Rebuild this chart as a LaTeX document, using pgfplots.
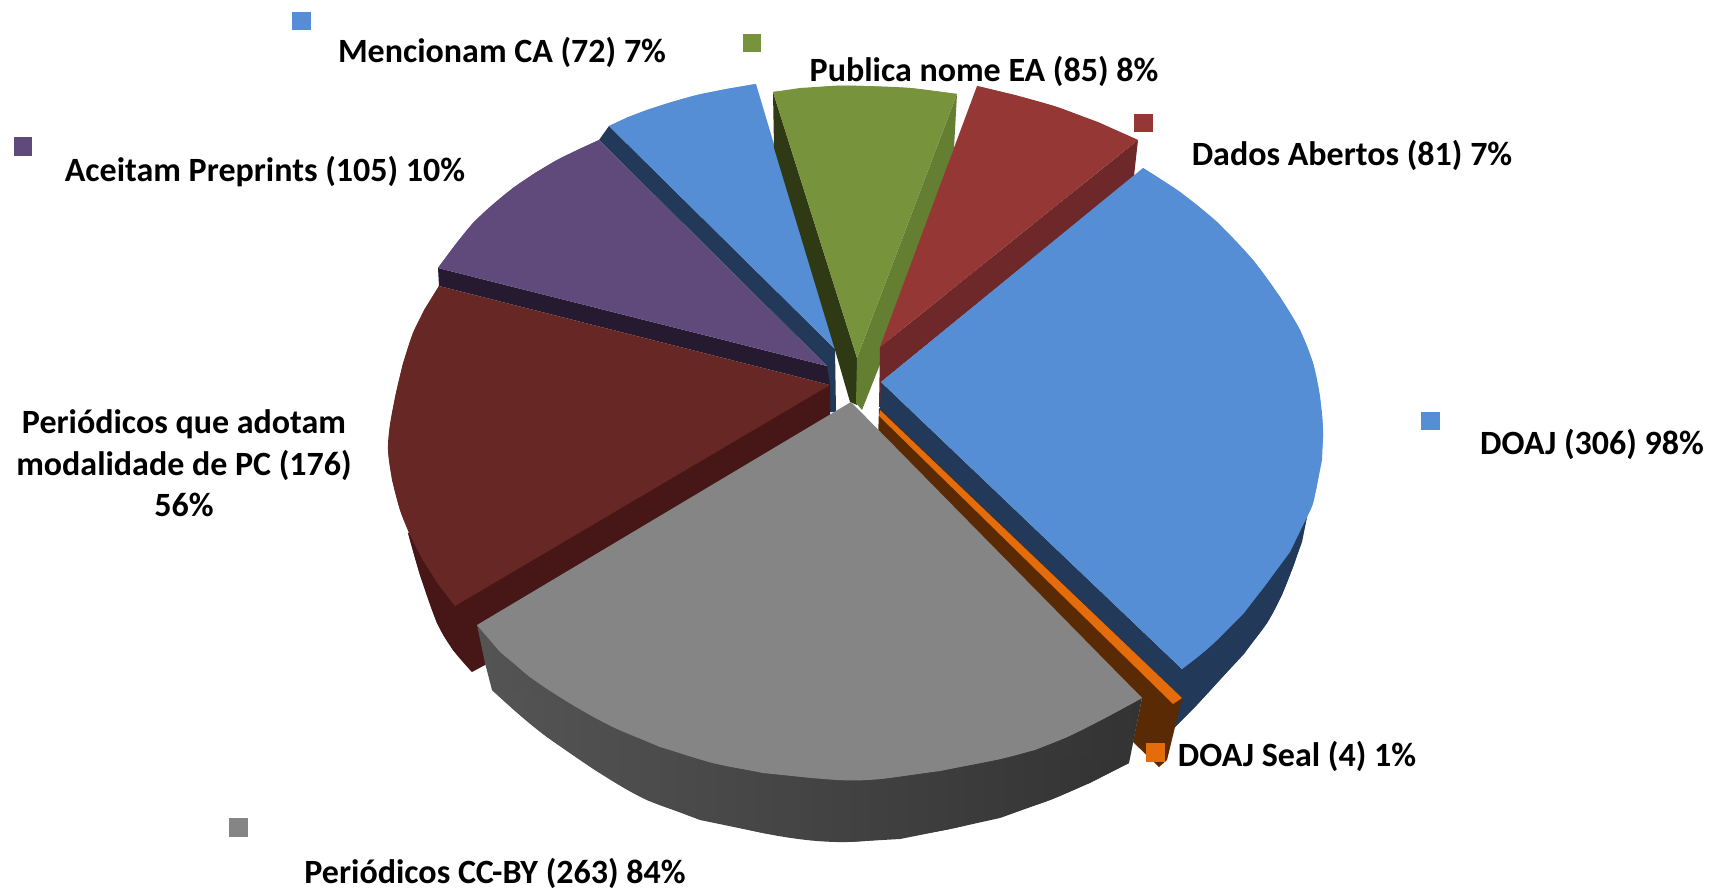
\documentclass[border=0pt]{standalone}
\usepackage{pgfplots}
\pgfplotsset{compat=1.18}
\usepackage{fontspec}
\setmainfont{Carlito}
\definecolor{cblue}{HTML}{558ED5}
\definecolor{cdblue}{HTML}{22395A}
\definecolor{cgreen}{HTML}{77933C}
\definecolor{cdgreen}{HTML}{2F3A15}
\definecolor{csgreen}{HTML}{647F32}
\definecolor{cred}{HTML}{953735}
\definecolor{csred}{HTML}{6E2829}
\definecolor{cpurple}{HTML}{604A7B}
\definecolor{cdpurple}{HTML}{261A30}
\definecolor{cmaroon}{HTML}{672725}
\definecolor{cdmaroon}{HTML}{461716}
\definecolor{cgray}{HTML}{858585}
\definecolor{corange}{HTML}{E46C0A}
\definecolor{cbrown}{HTML}{5A2A05}
\newcommand{\lab}[1]{\fontsize{34}{40}\selectfont\bfseries #1}
\begin{document}
\begin{tikzpicture}
\path (0,0) rectangle (1713pt,890pt);
\begin{axis}[
  anchor=south west, at={(0,0)},
  scale only axis, width=1713pt, height=890pt,
  xmin=0, xmax=1713, ymin=0, ymax=890, y dir=reverse,
  hide axis,
  every axis plot/.append style={draw=none, no markers},
]
% Mencionam CA
\addplot[fill=cdblue] coordinates {(609,126)(835,349)(836,412)(829,412)(827,366)(599,140)} --cycle;
\addplot[fill=cblue] coordinates {(835,349)(609,126)(628,117)(647,110)(672,102)(697,95)(726,89)(756,84)} --cycle;
\addplot[fill=cblue, smooth] coordinates {(609,126)(647,110)(697,95)(756,84)};
% Aceitam Preprints
\addplot[fill=cdpurple] coordinates {(438,268)(827,366)(830,385)(439,286)} --cycle;
\addplot[fill=cpurple] coordinates {(827,366)(438,268)(455,245)(473,223)(493,205)(513,188)(535,173)(557,160)(578,150)(599,140)} --cycle;
\addplot[fill=cpurple, smooth] coordinates {(438,268)(473,223)(513,188)(557,160)(599,140)};
% Periodicos PC
\addplot[fill=cdmaroon] coordinates {(408,533)(420,575)(437,623)(453,650)(472,672)(485,665)(830,448)(830,385)} --cycle;
\addplot[fill=cdmaroon, smooth] coordinates {(408,533)(420,575)(437,623)(453,650)(472,672)};
\addplot[fill=cmaroon] coordinates {(830,385)(439,286)(424,310)(413,333)(403,363)(396,393)(390,425)(388,450)(392,480)(400,510)(410,535)(423,560)(438,584)(455,606)} --cycle;
\addplot[fill=cmaroon, smooth] coordinates {(439,286)(413,333)(396,393)(388,450)(400,510)(423,560)(455,606)};
% Publica nome EA
\addplot[fill=cdgreen] coordinates {(773,92)(857,358)(857,405)(850,402)(835,350)(774,148)} --cycle;
\addplot[fill=csgreen] coordinates {(957,94)(954,148)(879,367)(862,410)(856,403)(857,358)} --cycle;
\addplot[fill=cgreen] coordinates {(857,358)(773,92)(800,88)(832,86)(864,86)(910,88)(957,94)} --cycle;
\addplot[fill=cgreen, smooth] coordinates {(773,92)(832,86)(864,86)(910,88)(957,94)};
% Dados Abertos
\addplot[fill=csred] coordinates {(880,347)(1138,140)(1134,176)(881,382)(881,407)(879,407)} --cycle;
\addplot[fill=cred] coordinates {(880,347)(977,86)(1015,95)(1057,107)(1098,122)(1138,140)} --cycle;
\addplot[fill=cred, smooth] coordinates {(977,86)(1057,107)(1138,140)};
% DOAJ
\addplot[fill=cdblue] coordinates {(881,382)(880,412)(1178,698)(1175,727)(1197,705)(1217,683)(1244,654)(1267,623)(1282,595)(1293,567)(1302,542)(1307,517)(1182,669)} --cycle;
\addplot[fill=cdblue, smooth] coordinates {(1175,727)(1217,683)(1267,623)(1293,567)(1307,517)};
\addplot[fill=cblue] coordinates {(881,382)(1143,168)(1180,192)(1217,222)(1253,260)(1280,297)(1300,330)(1313,363)(1320,397)(1323,437)(1322,460)(1316,490)(1307,517)(1290,552)(1267,583)(1244,613)(1217,640)(1200,655)(1182,669)} --cycle;
\addplot[fill=cblue, smooth] coordinates {(1143,168)(1180,192)(1217,222)(1253,260)(1280,297)(1300,330)(1313,363)(1320,397)(1323,437)(1316,490)(1307,517)(1267,583)(1217,640)(1182,669)};
% DOAJ Seal
\addplot[fill=cbrown] coordinates {(879,408)(1182,698)(1175,727)(1167,760)(1159,767)(1133,742)(1142,698)(878,440)} --cycle;
\addplot[fill=corange] coordinates {(880,410)(1182,698)(1173,704)(879,416)} --cycle;
% Periodicos CC-BY
\addplot[left color=black!67, middle color=black!81, right color=black!80] coordinates {(477,625)(485,663)(492,690)(520,715)(547,737)(595,770)(647,800)(700,820)(763,833)(810,840)(847,842)(900,839)(950,829)(1000,818)(1050,800)(1090,783)(1129,763)(1142,698)} --cycle;
\addplot[left color=black!67, middle color=black!81, right color=black!80, smooth] coordinates {(492,690)(547,737)(647,800)(763,833)(847,842)(950,829)(1050,800)(1129,763)};
\addplot[fill=cgray] coordinates {(851,402)(477,625)(500,652)(530,677)(570,703)(613,727)(660,747)(713,763)(763,773)(813,778)(850,780)(880,779)(940,771)(1000,759)(1035,750)(1067,737)(1105,718)(1142,698)} --cycle;
\addplot[fill=cgray, smooth] coordinates {(477,625)(530,677)(613,727)(713,763)(813,778)(880,779)(1000,759)(1067,737)(1142,698)};
% legend keys
\addplot[fill=cblue] coordinates {(292,12)(311,12)(311,30)(292,30)} --cycle;
\addplot[fill=cblue] coordinates {(1421,412)(1440,412)(1440,430)(1421,430)} --cycle;
\addplot[fill=cgreen] coordinates {(743,34)(761,34)(761,52)(743,52)} --cycle;
\addplot[fill=cred] coordinates {(1134,114)(1153,114)(1153,132)(1134,132)} --cycle;
\addplot[fill=cpurple] coordinates {(14,137)(32,137)(32,156)(14,156)} --cycle;
\addplot[fill=cgray] coordinates {(229,818)(248,818)(248,837)(229,837)} --cycle;
\addplot[fill=corange] coordinates {(1146,743)(1165,743)(1165,762)(1146,762)} --cycle;
% labels
\node[anchor=center, inner sep=0pt] at (axis cs:502,52) {\lab{Mencionam CA (72) 7\%}};
\node[anchor=center, inner sep=0pt] at (axis cs:984,71) {\lab{Publica nome EA (85) 8\%}};
\node[anchor=center, inner sep=0pt] at (axis cs:1352,155) {\lab{Dados Abertos (81) 7\%}};
\node[anchor=center, inner sep=0pt] at (axis cs:265,172) {\lab{Aceitam Preprints (105) 10\%}};
\node[anchor=center, inner sep=0pt] at (axis cs:184,424) {\lab{Periódicos que adotam}};
\node[anchor=center, inner sep=0pt] at (axis cs:184,465) {\lab{modalidade de PC (176)}};
\node[anchor=center, inner sep=0pt] at (axis cs:184,505) {\lab{56\%}};
\node[anchor=center, inner sep=0pt] at (axis cs:1592,444) {\lab{DOAJ (306) 98\%}};
\node[anchor=center, inner sep=0pt] at (axis cs:1297,756) {\lab{DOAJ Seal (4) 1\%}};
\node[anchor=center, inner sep=0pt] at (axis cs:495,873) {\lab{Periódicos CC-BY (263) 84\%}};
\end{axis}
\end{tikzpicture}
\end{document}
